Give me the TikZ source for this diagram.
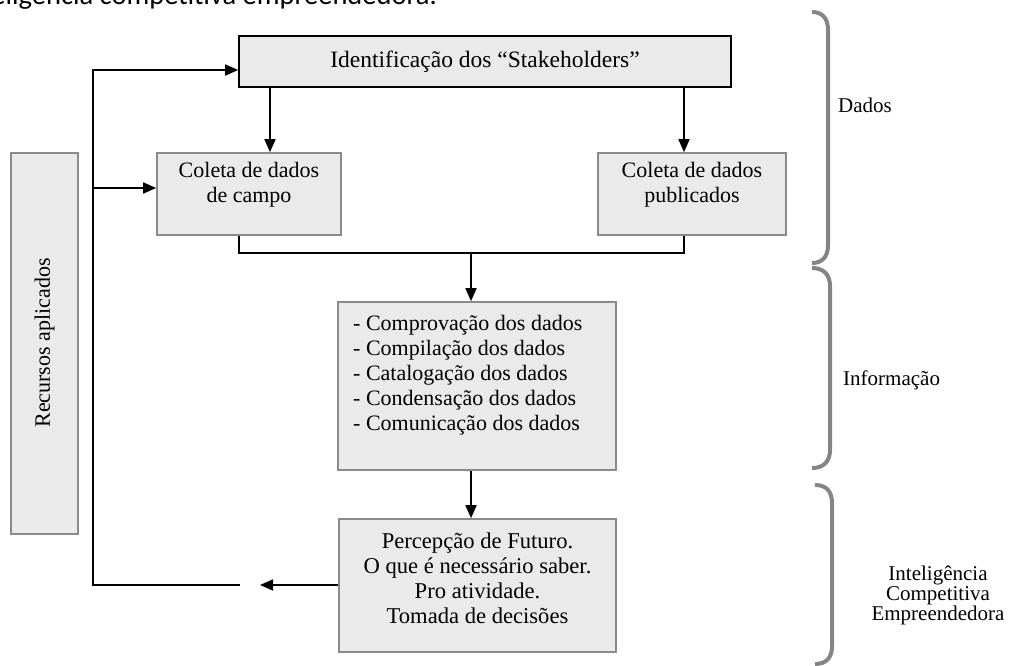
\documentclass[tikz,border=0pt]{standalone}
\usepackage{fontspec}
\setmainfont{Liberation Serif}
\newfontfamily\capfont{Carlito}
\usetikzlibrary{arrows.meta}
\definecolor{boxfill}{HTML}{EAEAEA}
\definecolor{boxedge}{HTML}{8A8A8A}
\definecolor{bracegray}{HTML}{858585}
\begin{document}
\begin{tikzpicture}[x=1pt,y=-1pt,
  box/.style={draw=boxedge, line width=1.6pt, fill=boxfill, rectangle, inner sep=0pt},
  txt/.style={align=center, inner sep=0pt, font=\fontsize{22}{25}\selectfont},
  conn/.style={line width=1.7pt, draw=black},
  arr/.style={conn, -{Triangle[length=13pt,width=11pt]}},
  brace/.style={draw=bracegray, line width=4pt},
  lab/.style={font=\fontsize{21}{20}\selectfont, align=center, inner sep=0pt}
]
\useasboundingbox (0,0) rectangle (1014,666);
% caption (cut at the top)
\node[font=\capfont\fontsize{28.5}{30}\selectfont, anchor=base east, inner sep=0pt] (cap) at (437,5) {Inteligência competitiva empreendedora.};
% boxes
\node[box, draw=black, minimum width=492pt, minimum height=51pt] (stake) at (485,61.5) {};
\node[txt, font=\fontsize{23.5}{25}\selectfont] (staket) at (485,61.5) {Identificação dos “Stakeholders”};
\node[box, minimum width=184pt, minimum height=82pt] (campo) at (249,194) {};
\node[txt] (campot) at (249,185) {Coleta de dados\\de campo};
\node[box, minimum width=188pt, minimum height=82pt] (publi) at (692,194) {};
\node[txt] (publit) at (692,185) {Coleta de dados\\publicados};
\node[box, minimum width=67pt, minimum height=381pt] (rec) at (44.5,343.5) {};
\node[txt, rotate=90] (rect) at (44.5,343) {Recursos aplicados};
\node[box, minimum width=278pt, minimum height=168pt] (info) at (477,386) {};
\node[txt, align=left, anchor=north west] (infot) at (353,315) {- Comprovação dos dados\\- Compilação dos dados\\- Catalogação dos dados\\- Condensação dos dados\\- Comunicação dos dados};
\node[box, minimum width=277pt, minimum height=133pt] (perc) at (477.5,585.5) {};
\node[txt, font=\fontsize{22.6}{25}\selectfont] (perct) at (477.5,578) {Percepção de Futuro.\\O que é necessário saber.\\Pro atividade.\\Tomada de decisões};
% connector coordinates
\coordinate (a1) at (270,0);
\coordinate (a2) at (684,0);
\coordinate (j1) at (239,0);
\coordinate (jm) at (471,253);
\coordinate (fb) at (240,585);
\coordinate (tip) at (260,585);
\coordinate (fbc) at (93,585);
\coordinate (fbt) at (93,70);
\coordinate (br) at (93,188);
% connectors
\draw[arr] (stake.south -| a1) -- (campo.north -| a1);
\draw[arr] (stake.south -| a2) -- (publi.north -| a2);
\draw[conn] (campo.south -| j1) -- (j1 |- jm) -- (a2 |- jm) -- (publi.south -| a2);
\draw[arr] (jm) -- (info.north -| jm);
\draw[arr] (info.south -| jm) -- (perc.north -| jm);
\draw[arr] (perc.west |- tip) -- (tip);
\draw[arr] (fb) -- (fbc) -- (fbt) -- (stake.west |- fbt);
\draw[arr] (br) -- (campo.west |- br);
% braces
\draw[brace] (812,12) .. controls (822,12) and (828,18) .. (828,30) -- (828,245) .. controls (828,257) and (822,263) .. (812,263);
\draw[brace] (812,268) .. controls (823,268) and (830,274) .. (830,286) -- (830,450) .. controls (830,462) and (823,468) .. (812,468);
\draw[brace] (815,485) .. controls (826,485) and (832,491) .. (832,503) -- (832,646) .. controls (832,658) and (826,664) .. (815,664);
% labels
\node[lab, anchor=west] (dados) at (838,105) {Dados};
\node[lab, anchor=west] (inform) at (843,380) {Informação};
\node[lab] (intel) at (938,595) {Inteligência\\Competitiva\\Empreendedora};
\end{tikzpicture}
\end{document}
